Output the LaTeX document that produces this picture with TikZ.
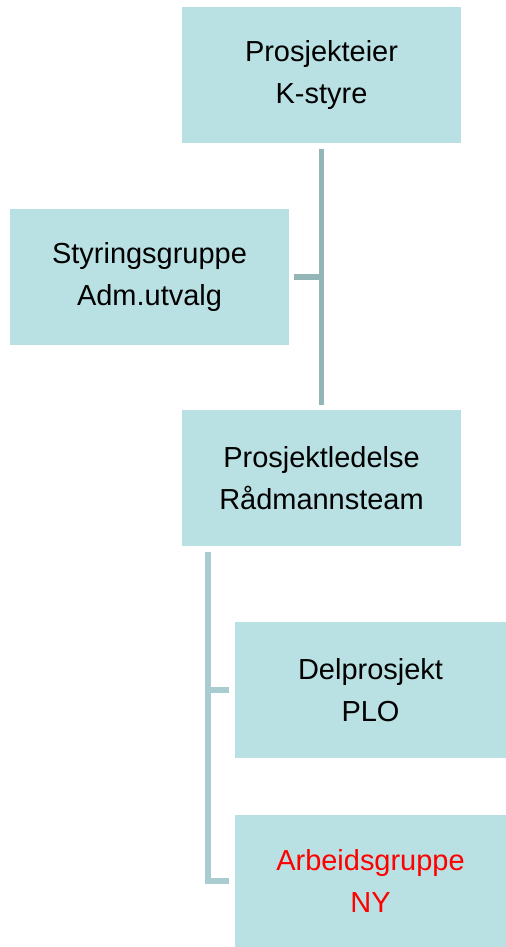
\documentclass[tikz,border=0pt]{standalone}
\usepackage{fontspec}
\setmainfont{Liberation Sans}
\usepackage{xcolor}
\definecolor{boxfill}{HTML}{B9E0E3}
\definecolor{linetop}{HTML}{94B5B5}
\definecolor{linelow}{HTML}{A8CCCF}
\tikzset{orgbox/.style={rectangle,fill=boxfill,draw=none,inner sep=0pt,align=center,
    	font=\fontsize{20.6}{29.7}\selectfont},
    	conntop/.style={draw=linetop,line width=3.6pt},
    	connlow/.style={draw=linelow,line width=3.6pt}}

\begin{document}
\begin{tikzpicture}[x=0.025cm,y=-0.025cm]
			\useasboundingbox (0,0) rectangle (506,947);
			\node[orgbox,minimum width=6.975cm,minimum height=3.4cm] (eier) at (321.5,75) {Prosjekteier\\K-styre};
			\node[orgbox,minimum width=6.975cm,minimum height=3.4cm] (styr) at (149.5,277) {Styringsgruppe\\Adm.utvalg};
			\node[orgbox,minimum width=6.975cm,minimum height=3.4cm] (led) at (321.5,478) {Prosjektledelse\\Rådmannsteam};
			\node[orgbox,minimum width=6.775cm,minimum height=3.4cm] (del) at (370.5,690) {Delprosjekt\\PLO};
			\node[orgbox,minimum width=6.775cm,minimum height=3.3cm,text=red] (ny) at (370.5,881) {Arbeidsgruppe\\NY};
		
			\coordinate (j1) at (eier.south |- styr.east);
			\coordinate (v0) at (208,552);
		
			\path [conntop,shorten <=6*0.025cm,shorten >=5*0.025cm](eier.south) edge node {} (led.north);
			\path [conntop,shorten <=5*0.025cm](styr.east) edge node {} (j1);
			\draw [connlow,shorten >=6*0.025cm](v0) |- (ny.west);
			\path [connlow,shorten >=6*0.025cm](v0 |- del.west) edge node {} (del.west);
		\end{tikzpicture}
\end{document}
